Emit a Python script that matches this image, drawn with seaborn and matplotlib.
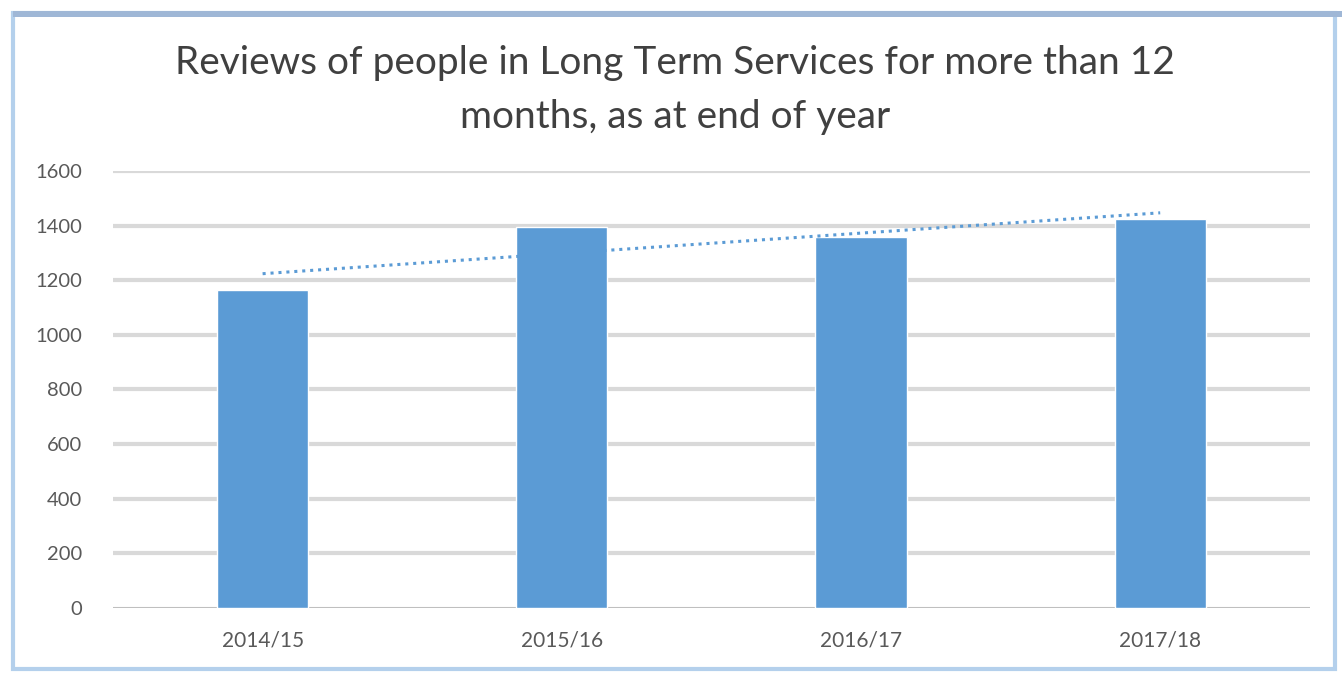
import numpy as np
import pandas as pd
import matplotlib
matplotlib.use("Agg")
import matplotlib.pyplot as plt
import seaborn as sns
from matplotlib.patches import Rectangle

# Year-end review counts
years = ["2014/15", "2015/16", "2016/17", "2017/18"]
reviews = [1164, 1395, 1358, 1424]
y_ticks = [0, 200, 400, 600, 800, 1000, 1200, 1400, 1600]

title = "Reviews of people in Long Term Services for more than 12\nmonths, as at end of year"

sns.set_theme(style="white")
plt.rcParams["font.family"] = ["Lato", "DejaVu Sans"]

bar_color = "#5b9bd5"
text_color = "#595959"

fig = plt.figure(figsize=(13.42, 6.73), dpi=100)
ax = fig.add_axes([0.0842, 0.0966, 0.8918, 0.6494])

df = pd.DataFrame({"year": years, "reviews": reviews})
sns.barplot(data=df, x="year", y="reviews", color=bar_color, width=0.305,
            saturation=1, ax=ax, zorder=3)

# Linear trendline across the categories
xpos = np.arange(len(years))
slope, intercept = np.polyfit(xpos, reviews, 1)
trend = pd.DataFrame({"x": xpos, "y": slope * xpos + intercept})
sns.lineplot(data=trend, x="x", y="y", ax=ax, color=bar_color, lw=2.2,
             linestyle=(0, (1, 1.6)), zorder=4)

ax.set_xlim(-0.5, len(years) - 0.5)
ax.set_ylim(0, 1600)
ax.set_yticks(y_ticks)
ax.set_yticklabels([str(v) for v in y_ticks])
ax.set_xlabel("")
ax.set_ylabel("")

# Horizontal gridlines
for v in y_ticks[1:]:
    ax.axhline(v, color="#d9d9d9", lw=3, zorder=1)
ax.axhline(0, color="#bfbfbf", lw=1.5, zorder=2)

for s in ax.spines.values():
    s.set_visible(False)
ax.tick_params(axis="y", length=0, pad=22, labelsize=14.5, labelcolor=text_color)
ax.tick_params(axis="x", length=0, pad=16, labelsize=15, labelcolor=text_color)

fig.text(0.503, 0.866, title, ha="center", va="center", fontsize=28,
         color="#404040", linespacing=1.6)

# Outer chart frame
fig.patches.append(Rectangle((0.010, 0.006), 0.985, 0.974, transform=fig.transFigure,
                             fill=False, edgecolor="#b4d0ec", lw=3))
fig.patches.append(Rectangle((0.010, 0.975), 0.99, 0.008, transform=fig.transFigure,
                             facecolor="#9fb7d6", edgecolor="none"))

fig.savefig("out.png", dpi=100)
